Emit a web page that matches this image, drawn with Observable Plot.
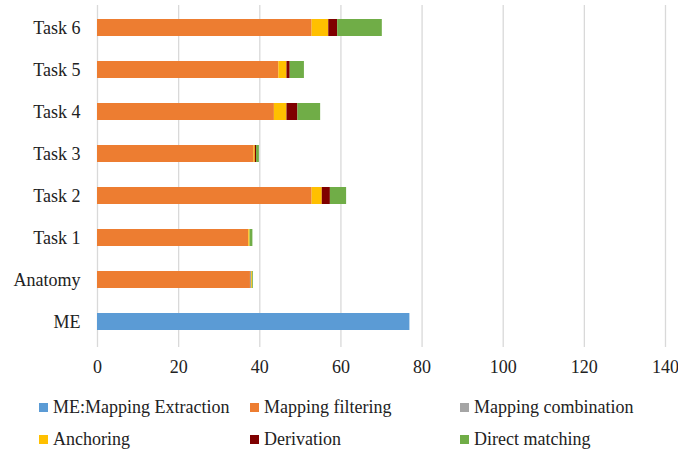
<!DOCTYPE html>
<html>
<head>
<meta charset="utf-8">
<script src="https://cdn.jsdelivr.net/npm/d3@7"></script>
<script src="https://cdn.jsdelivr.net/npm/@observablehq/plot@0.6"></script>
<style>
  body { margin: 0; background: #fff; }
  #chart { width: 678px; font-family: "Liberation Serif", serif; }
  .legend { display: grid; grid-template-columns: 211px 210px 210px; margin-left: 39px; row-gap: 10px; margin-top: 8px; }
  .item { display: flex; align-items: center; font-size: 18px; color: #222; height: 22px; }
  .sw { width: 9px; height: 9px; margin-right: 5px; flex: none; }
</style>
</head>
<body>
<div id="chart"></div>
<script>
const categories = ["ME", "Anatomy", "Task 1", "Task 2", "Task 3", "Task 4", "Task 5", "Task 6"];
const seriesNames = ["ME:Mapping Extraction", "Mapping filtering", "Mapping combination", "Anchoring", "Derivation", "Direct matching"];
const seriesColors = ["#5B9BD5", "#ED7D31", "#A5A5A5", "#FFC000", "#7F0000", "#70AD47"];
const extraction  = [77, 0, 0, 0, 0, 0, 0, 0];
const filtering   = [0, 37.7, 37.3, 52.9, 38.6, 43.6, 44.7, 52.9];
const combination = [0, 0.3, 0, 0, 0, 0, 0, 0];
const anchoring   = [0, 0.2, 0.3, 2.5, 0.3, 3.1, 2.0, 4.1];
const derivation  = [0, 0, 0, 2.0, 0.3, 2.7, 0.8, 2.2];
const direct      = [0, 0.2, 0.7, 4.0, 0.7, 5.6, 3.5, 11.0];
const xTicks = [0, 20, 40, 60, 80, 100, 120, 140];

const seriesValues = [extraction, filtering, combination, anchoring, derivation, direct];
const data = [];
seriesValues.forEach((vals, si) => {
  vals.forEach((v, ci) => data.push({category: categories[ci], series: seriesNames[si], value: v}));
});

const plot = Plot.plot({
  width: 678,
  height: 388,
  marginLeft: 97,
  marginRight: 13,
  marginTop: 5,
  marginBottom: 41,
  style: {fontFamily: "Liberation Serif, serif", fontSize: "18px", color: "#222", background: "#fff"},
  x: {domain: [0, 140], ticks: xTicks, label: null, tickSize: 0, tickPadding: 13},
  y: {domain: categories.slice().reverse(), label: null, paddingInner: 0.6, paddingOuter: 0.3, insetBottom: 4, tickSize: 0, tickPadding: 17},
  color: {domain: seriesNames, range: seriesColors},
  marks: [
    Plot.ruleX(xTicks, {stroke: "#d9d9d9", strokeWidth: 1.3}),
    Plot.barX(data, Plot.stackX({x: "value", y: "category", fill: "series", order: seriesNames})),
    Plot.axisX({ticks: xTicks, tickSize: 0, tickPadding: 13, label: null}),
    Plot.axisY({tickSize: 0, tickPadding: 17, label: null})
  ]
});
const root = document.getElementById("chart");
root.appendChild(plot);

const legend = document.createElement("div");
legend.className = "legend";
seriesNames.forEach((name, i) => {
  const it = document.createElement("div");
  it.className = "item";
  const sw = document.createElement("span");
  sw.className = "sw";
  sw.style.background = seriesColors[i];
  const t = document.createElement("span");
  t.textContent = name;
  it.appendChild(sw); it.appendChild(t);
  legend.appendChild(it);
});
root.appendChild(legend);
</script>
</body>
</html>
